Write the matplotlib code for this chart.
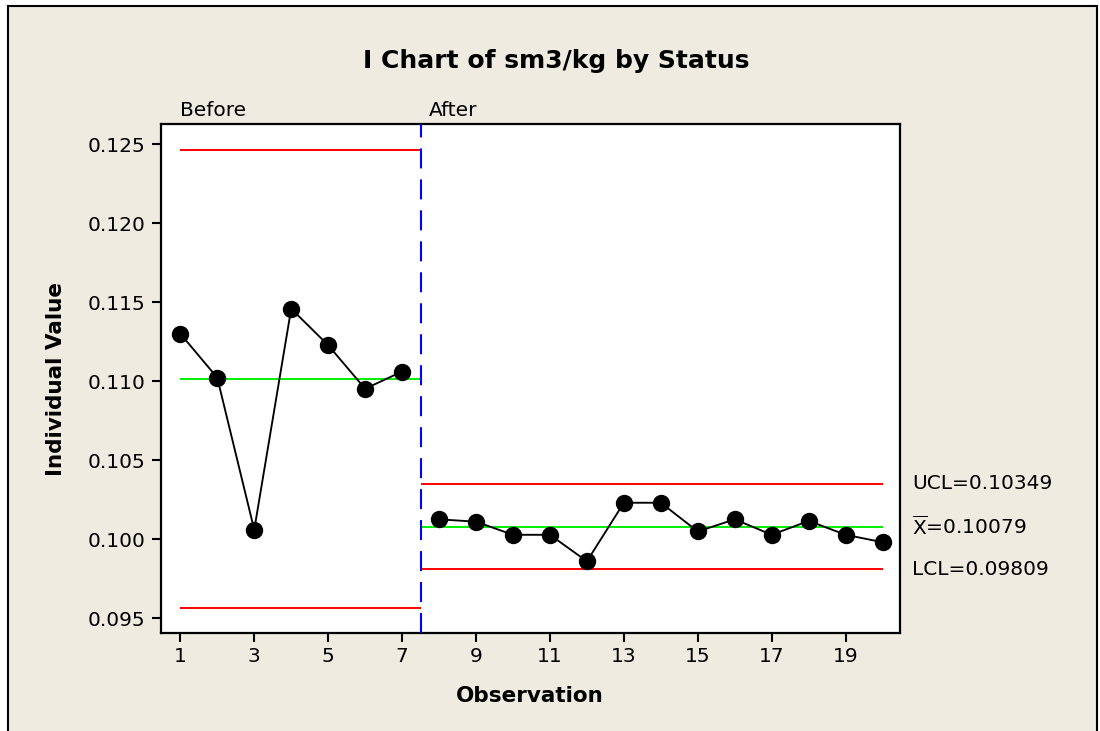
import matplotlib
matplotlib.use('Agg')
import matplotlib.pyplot as plt
from matplotlib.patches import Rectangle
import matplotlib.transforms as mtransforms

plt.rcParams['font.family'] = ['DejaVu Sans']
plt.rcParams['mathtext.fontset'] = 'dejavusans'
plt.rcParams['lines.scale_dashes'] = False

# ---- data ----
observations = list(range(1, 21))
values = [0.11301, 0.11022, 0.10059, 0.11459, 0.11228, 0.10952, 0.11061,
          0.10125, 0.10110, 0.10027, 0.10027, 0.09859, 0.10230, 0.10230,
          0.10048, 0.10125, 0.10027, 0.10115, 0.10027, 0.09980]
stages = ['Before', 'After']
stage_start = [1, 8]
stage_end = [7, 20]
ucl = [0.12464, 0.10349]
center = [0.11014, 0.10079]
lcl = [0.09562, 0.09809]
limit_labels = ['UCL=0.10349', r'$\overline{\mathrm{X}}$=0.10079', 'LCL=0.09809']
xticks = [1, 3, 5, 7, 9, 11, 13, 15, 17, 19]
yticks = [0.095, 0.100, 0.105, 0.110, 0.115, 0.120, 0.125]
title = 'I Chart of sm3/kg by Status'

W, H = 1100, 731
fig = plt.figure(figsize=(W / 100, H / 100), dpi=100)
fig.patch.set_facecolor('white')

bg = Rectangle((8 / W, -0.02), (1097 - 8) / W, 1 - 6 / H + 0.02,
               transform=fig.transFigure, facecolor='#EFEBE0',
               edgecolor='black', linewidth=1.5, zorder=-10)
fig.patches.append(bg)

ax = fig.add_axes([160.6 / W, (H - 633) / H, (900 - 160.6) / W, (633 - 124) / H])
ax.set_facecolor('white')

n_st = len(stages)
for i in range(n_st):
    left = stage_start[i] if i == 0 else stage_start[i] - 0.5
    right = stage_end[i] + 0.5 if i < n_st - 1 else stage_end[i]
    ax.hlines([ucl[i], lcl[i]], left, right, colors='#FF0000', linewidth=1.4, zorder=2)
    ax.hlines(center[i], left, right, colors='#00EE00', linewidth=1.4, zorder=2)

for i in range(1, n_st):
    ax.axvline(stage_start[i] - 0.5, color='#0000FF', linewidth=1.5,
               dashes=(14.4, 7.9), zorder=3)

for i in range(n_st):
    a = stage_start[i] - 1
    b = stage_end[i]
    ax.plot(observations[a:b], values[a:b], color='black', linewidth=1.35,
            marker='o', markersize=11.5, markerfacecolor='black',
            markeredgecolor='black', zorder=4)

ax.set_xlim(0.467, 20.47)
ax.set_ylim(0.09405, 0.12629)
ax.set_xticks(xticks)
ax.set_xticklabels([str(t) for t in xticks])
ax.set_yticks(yticks)
ax.set_yticklabels([f'{t:.3f}' for t in yticks])

for s in ax.spines.values():
    s.set_linewidth(1.6)
    s.set_color('black')
ax.tick_params(axis='both', direction='out', length=6.5, width=1.5,
               labelsize=14.5, colors='black')
ax.tick_params(axis='x', pad=3.6)
ax.tick_params(axis='y', pad=4.5)

# stage labels
for i in range(n_st):
    if i == 0:
        xpos = stage_start[i]
        off = 0
    else:
        xpos = stage_start[i] - 0.5
        off = 8
    tr = mtransforms.blended_transform_factory(ax.transData, ax.transAxes) + \
        mtransforms.ScaledTranslation(off / 100, 0, fig.dpi_scale_trans)
    ax.text(xpos, 1 + (124 - 116) / 509, stages[i], transform=tr,
            ha='left', va='baseline', fontsize=14.5, clip_on=False)

# limit labels on the right (last stage)
tr_r = mtransforms.blended_transform_factory(ax.transAxes, ax.transData)
xr = (912 - 160.6) / (900 - 160.6)
for lab, yv in zip(limit_labels, [ucl[-1], center[-1], lcl[-1]]):
    ax.text(xr, yv, lab, transform=tr_r, ha='left', va='center',
            fontsize=14.5, clip_on=False)

fig.text(556 / W, 1 - 68 / H, title, ha='center', va='baseline',
         fontsize=18, fontweight='bold')
fig.text(530 / W, 1 - 702 / H, 'Observation', ha='center', va='baseline',
         fontsize=15.5, fontweight='bold')
fig.text(56 / W, 1 - 379 / H, 'Individual Value', ha='center', va='center',
         rotation=90, fontsize=15.5, fontweight='bold')

fig.savefig('out.png', dpi=100, facecolor=fig.get_facecolor())
